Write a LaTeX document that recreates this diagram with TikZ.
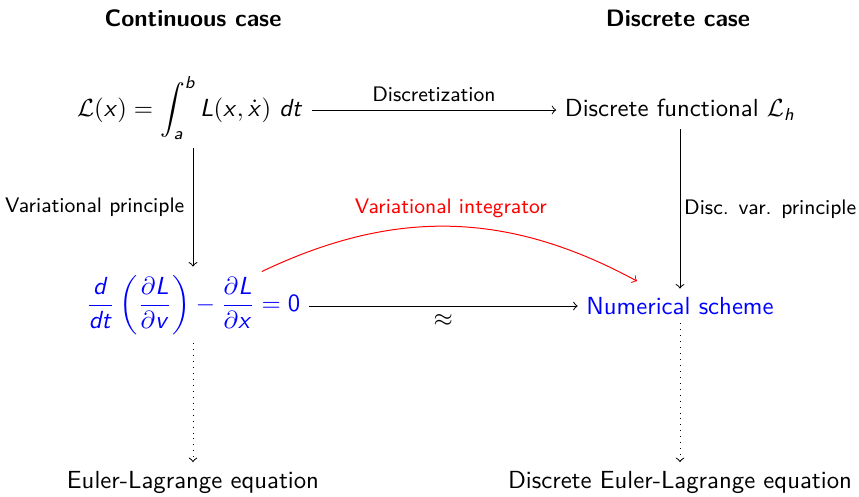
\documentclass[tikz,border=0pt]{standalone}
\usepackage{amsmath,amssymb}
\usepackage{tikz}

% sans serif letters and digits in math
\DeclareSymbolFont{sfletters}{OT1}{cmss}{m}{sl}
\DeclareSymbolFont{sfupright}{OT1}{cmss}{m}{n}
\makeatletter
\count@=`A
\loop \global\mathcode\count@=\numexpr"7000+\symsfletters*"100+\count@\relax
  \ifnum\count@<`Z \advance\count@ 1 \repeat
\count@=`a
\loop \global\mathcode\count@=\numexpr"7000+\symsfletters*"100+\count@\relax
  \ifnum\count@<`z \advance\count@ 1 \repeat
\count@=`0
\loop \global\mathcode\count@=\numexpr"7000+\symsfupright*"100+\count@\relax
  \ifnum\count@<`9 \advance\count@ 1 \repeat
\makeatother

\begin{document}
\begin{tikzpicture}[x=0.0142cm, y=-0.0142cm, font=\sffamily,
  title/.style={font=\sffamily\bfseries\fontsize{9.6}{11}\selectfont},
  lbl/.style={font=\sffamily\fontsize{8.5}{10}\selectfont},
  blu/.style={text=blue}]
\useasboundingbox (0,0) rectangle (859,496);

\node[title] (cont) at (193,18) {Continuous case};
\node[title] (disc) at (678,18) {Discrete case};

\node (lagr) at (190,108) {$\mathcal{L}(x) = \displaystyle\int_a^b L(x,\dot{x})\ dt$};
\node (dfun) at (680,110) {Discrete functional $\mathcal{L}_h$};
\node[blu] (eleq) at (193,305) {$\displaystyle\frac{d}{dt}\left(\frac{\partial L}{\partial v}\right) - \frac{\partial L}{\partial x} = 0$};
\node[blu] (nums) at (680,306) {Numerical scheme};
\node (el) at (193,482) {Euler-Lagrange equation};
\node (del) at (680,482) {Discrete Euler-Lagrange equation};

\draw[->] (lagr.east |- dfun) -- (dfun.west) node[midway, above, lbl] {Discretization};
\draw[->] (lagr.south -| el) -- (eleq.north -| el) node[midway, left, lbl] {Variational principle};
\draw[->] (dfun) -- (nums.north) node[midway, right, lbl, inner sep=1.5pt] {Disc. var. principle};
\draw[->] (eleq.east |- nums) -- (nums.west) node[midway, below] {$\approx$};
\draw[->, red] ([xshift=-19pt, yshift=-2pt]eleq.north east) to[bend left=27] node[midway, above, lbl] {Variational integrator} ([xshift=24pt, yshift=3pt]nums.north west);
\draw[->, dotted] (eleq.south -| el) -- (el.north);
\draw[->, dotted] (nums.south) -- (del.north);
\end{tikzpicture}
\end{document}
